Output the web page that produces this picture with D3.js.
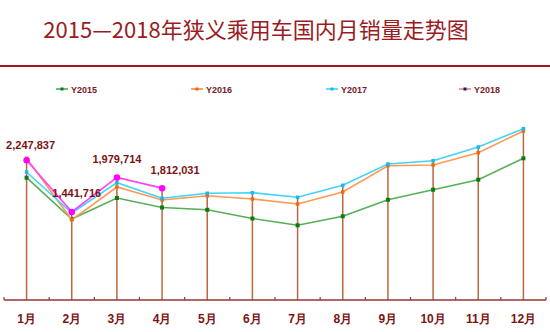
<!DOCTYPE html>
<html><head><meta charset="utf-8">
<script src="https://cdn.jsdelivr.net/npm/d3@7"></script>
<style>
html,body{margin:0;padding:0;background:#fff;}
svg{display:block;}
</style></head>
<body>
<svg id="chart" width="550" height="332"></svg>
<script>
const months = ["1月","2月","3月","4月","5月","6月","7月","8月","9月","10月","11月","12月"];
const seriesNames = ["Y2015","Y2016","Y2017","Y2018"];
const y2015 = [1974960,1330680,1658280,1510080,1474200,1338480,1232400,1372800,1630200,1787760,1943760,2277600];
const y2016 = [2277600,1318200,1829880,1627080,1694160,1642680,1564680,1751880,2162160,2173080,2364960,2703480];
const y2017 = [2063880,1424280,1896960,1653600,1731600,1740960,1669200,1856400,2188680,2240160,2453880,2739360];
const y2018 = [2247837,1441716,1979714,1812031];
const titleText = "2015—2018年狭义乘用车国内月销量走势图";

const svg = d3.select("#chart");
const W = 550, H = 332;
const axisY = 300;

const x = d3.scaleBand().domain(months).range([4, 546]).padding(0);
const cx = m => x(m) + x.bandwidth() / 2;
const y = d3.scaleLinear().domain([0, 3000000]).range([304.3, 304.3 - 3000000 / 15600]);

// title
svg.append("text").attr("x", 256).attr("y", 38).attr("text-anchor", "middle")
  .attr("font-family", "'Noto Sans CJK SC', 'Noto Sans', sans-serif")
  .attr("font-size", 22).attr("fill", "#9a1c1f").text(titleText);
svg.append("line").attr("x1", 0).attr("x2", W).attr("y1", 66).attr("y2", 66)
  .attr("stroke", "#a3161c").attr("stroke-width", 2);

const series = [
  {name: seriesNames[0], values: y2015, line: "#55b055", marker: "#0b7a12", shape: "square", size: 4},
  {name: seriesNames[1], values: y2016, line: "#ff9955", marker: "#f26a10", shape: "square", size: 3.5},
  {name: seriesNames[2], values: y2017, line: "#40d4f8", marker: "#1ab6f0", shape: "square", size: 3.5},
  {name: seriesNames[3], values: y2018, line: "#ff40ff", marker: "#ff00ff", shape: "circle", size: 6.5}
];

// drop lines from highest point to axis
const dropG = svg.append("g");
months.forEach((m, i) => {
  const vals = series.map(s => s.values[i]).filter(v => v != null);
  const top = d3.max(vals);
  dropG.append("line").attr("x1", cx(m)).attr("x2", cx(m))
    .attr("y1", y(top)).attr("y2", axisY)
    .attr("stroke", "#b8693f").attr("stroke-width", 1.5);
});

// axis
const axisG = svg.append("g").attr("transform", `translate(0,${axisY})`);
const ax = d3.axisBottom(x).tickSize(0).tickPadding(14);
axisG.call(ax);
axisG.select(".domain").remove();
axisG.append("line").attr("x1", 4).attr("x2", 546).attr("y1", 0).attr("y2", 0)
  .attr("stroke", "#9b3535").attr("stroke-width", 1.5);
d3.range(13).forEach(i => {
  const tx = 4 + i * x.bandwidth();
  axisG.append("line").attr("x1", tx).attr("x2", tx).attr("y1", 0).attr("y2", -3)
    .attr("stroke", "#9b3535").attr("stroke-width", 1.2);
});
axisG.selectAll(".tick text").attr("font-family", "'Liberation Sans', Arial, sans-serif")
  .attr("font-weight", "bold").attr("font-size", 12).attr("fill", "#7a1414").attr("dy", "0.71em");

// series lines
series.forEach(s => {
  const pts = s.values.map((v, i) => [cx(months[i]), y(v)]);
  svg.append("path").attr("d", d3.line()(pts)).attr("fill", "none")
    .attr("stroke", s.line).attr("stroke-width", 1.6);
  const g = svg.append("g");
  if (s.shape === "circle") {
    g.selectAll("circle").data(pts).join("circle")
      .attr("cx", d => d[0]).attr("cy", d => d[1]).attr("r", s.size / 2).attr("fill", s.marker);
  } else {
    g.selectAll("rect").data(pts).join("rect")
      .attr("x", d => d[0] - s.size / 2).attr("y", d => d[1] - s.size / 2)
      .attr("width", s.size).attr("height", s.size).attr("fill", s.marker);
  }
});

// data labels for 2018
const labelDx = [4, 5, 0, 13];
const labelDy = [-11, -15, -14, -14];
svg.append("g").selectAll("text").data(y2018).join("text")
  .attr("x", (d, i) => cx(months[i]) + labelDx[i])
  .attr("y", (d, i) => y(d) + labelDy[i])
  .attr("text-anchor", "middle")
  .attr("font-family", "'Liberation Sans', Arial, sans-serif")
  .attr("font-weight", "bold").attr("font-size", 11).attr("fill", "#7a1414")
  .text(d => d3.format(",")(d));

// legend
const legendX = [56, 191, 326, 459];
const legendLine = ["#4caf50", "#ff8a3d", "#40d4f8", "#f08080"];
const legendMarker = ["#0b7a12", "#f26a10", "#1ab6f0", "#1a1a6e"];
const lg = svg.append("g");
seriesNames.forEach((n, i) => {
  const g = lg.append("g").attr("transform", `translate(${legendX[i]},89)`);
  g.append("line").attr("x1", 0).attr("x2", 12).attr("stroke", legendLine[i]).attr("stroke-width", 1.6);
  g.append("rect").attr("x", 4.5).attr("y", -1.5).attr("width", 3).attr("height", 3).attr("fill", legendMarker[i]);
  g.append("text").attr("x", 15).attr("y", 3.5)
    .attr("font-family", "'Liberation Sans', Arial, sans-serif")
    .attr("font-weight", "bold").attr("font-size", 9).attr("fill", "#7a1a2a").text(n);
});
</script>
</body></html>
